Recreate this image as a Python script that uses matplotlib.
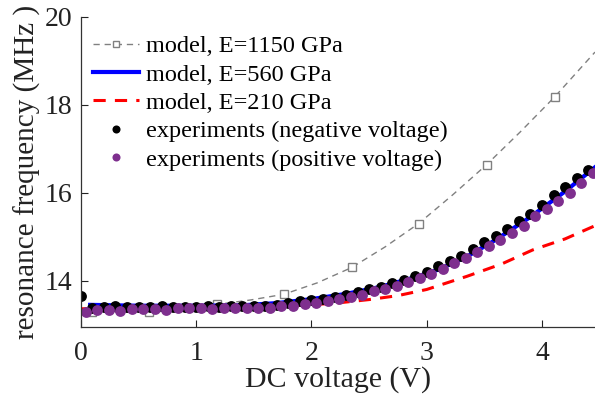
import numpy as np
import matplotlib
matplotlib.use("Agg")
import matplotlib.pyplot as plt

plt.rcParams['font.family'] = ['Liberation Serif', 'DejaVu Serif']
plt.rcParams['mathtext.fontset'] = 'stix'

# Model curves (voltage in V, frequency in MHz)
v_1150 = [0.10, 0.59, 0.88, 1.18, 1.47, 1.76, 2.05, 2.35, 2.64, 2.93, 3.22, 3.52, 3.81, 4.11, 4.46]
f_1150 = [13.28, 13.28, 13.34, 13.46, 13.56, 13.69, 13.95, 14.30, 14.77, 15.30, 15.94, 16.64, 17.38, 18.18, 19.20]
marker_idx_1150 = [0, 1, 3, 5, 7, 9, 11, 13]

v_560 = [0.08, 0.5, 1.0, 1.4, 1.7, 2.0, 2.3, 2.6, 2.9, 3.1, 3.35, 3.6, 3.9, 4.2, 4.46]
f_560 = [13.45, 13.43, 13.43, 13.44, 13.49, 13.58, 13.70, 13.86, 14.08, 14.25, 14.55, 14.93, 15.45, 16.03, 16.58]

v_210 = [0.0, 0.5, 1.0, 1.5, 2.0, 2.25, 2.5, 2.75, 3.0, 3.35, 3.65, 3.92, 4.2, 4.46]
f_210 = [13.36, 13.38, 13.40, 13.42, 13.45, 13.50, 13.57, 13.66, 13.80, 14.10, 14.38, 14.70, 14.95, 15.25]

# Measurements
v_neg = [round(0.1 * i, 2) for i in range(45)]
f_neg = [13.65, 13.37, 13.40, 13.42, 13.39, 13.41, 13.39, 13.42, 13.41, 13.40,
         13.41, 13.42, 13.41, 13.42, 13.42, 13.43, 13.43, 13.45, 13.49, 13.53,
         13.56, 13.59, 13.62, 13.68, 13.75, 13.80, 13.86, 13.94, 14.02, 14.10,
         14.20, 14.33, 14.45, 14.57, 14.72, 14.87, 15.02, 15.17, 15.35, 15.52,
         15.73, 15.95, 16.13, 16.33, 16.52]

v_pos = [round(0.1 * i + 0.04, 2) for i in range(45)]
f_pos = [13.29, 13.34, 13.33, 13.31, 13.35, 13.36, 13.36, 13.34, 13.37, 13.37,
         13.37, 13.36, 13.37, 13.37, 13.38, 13.38, 13.38, 13.42, 13.43, 13.48,
         13.50, 13.53, 13.58, 13.63, 13.68, 13.76, 13.81, 13.89, 13.97, 14.06,
         14.15, 14.27, 14.40, 14.52, 14.65, 14.78, 14.93, 15.08, 15.25, 15.46,
         15.62, 15.82, 16.00, 16.22, 16.45]

purple = (0.494, 0.184, 0.556)
text_col = '#222222'

fig = plt.figure(figsize=(5.95, 4.03), dpi=100)
ax = fig.add_axes([0.136, 0.189, 0.864, 0.769])

ax.plot(v_1150, f_1150, linestyle=(0, (4.5, 3.5)), color=(0.5, 0.5, 0.5), lw=1.0,
        marker='s', markevery=marker_idx_1150, markersize=6, markerfacecolor='white',
        markeredgecolor=(0.5, 0.5, 0.5), markeredgewidth=1.0, label='model, E=1150 GPa')
ax.plot(v_560, f_560, '-', color='blue', lw=3.0, label='model, E=560 GPa')
ax.plot(v_210, f_210, linestyle=(0, (4, 3)), color='red', lw=2.2, label='model, E=210 GPa')
ax.plot(v_neg, f_neg, 'o', color='black', markersize=7.8, markeredgewidth=0,
        label='experiments (negative voltage)')
ax.plot(v_pos, f_pos, 'o', color=purple, markersize=7.8, markeredgewidth=0,
        label='experiments (positive voltage)')

ax.set_xlim(0, 4.46)
ax.set_ylim(12.95, 20)
ax.set_xticks([0, 1, 2, 3, 4])
ax.set_yticks([14, 16, 18, 20])
ax.tick_params(direction='in', length=5, width=0.8, labelsize=20, colors=text_col)
ax.tick_params(axis='x', pad=10.5)
ax.tick_params(axis='y', pad=6.5)
for s in ('top', 'right'):
    ax.spines[s].set_visible(False)
for s in ('left', 'bottom'):
    ax.spines[s].set_color('#333333')
    ax.spines[s].set_linewidth(0.9)

ax.set_xlabel('DC voltage (V)', fontsize=21.5, color=text_col, labelpad=0)
ax.set_ylabel('resonance frequency (MHz )', fontsize=21, color=text_col, labelpad=2)

leg = ax.legend(loc='upper left', bbox_to_anchor=(0.018, 0.949), frameon=False,
                fontsize=17.5, handlelength=1.9, handletextpad=0.3,
                labelspacing=0.26, borderpad=0.1, borderaxespad=0.0, numpoints=1)
for h in leg.legend_handles[3:]:
    h.set_markersize(5.8)
leg.legend_handles[0].set_markersize(5)

fig.savefig('out.png', dpi=100)
